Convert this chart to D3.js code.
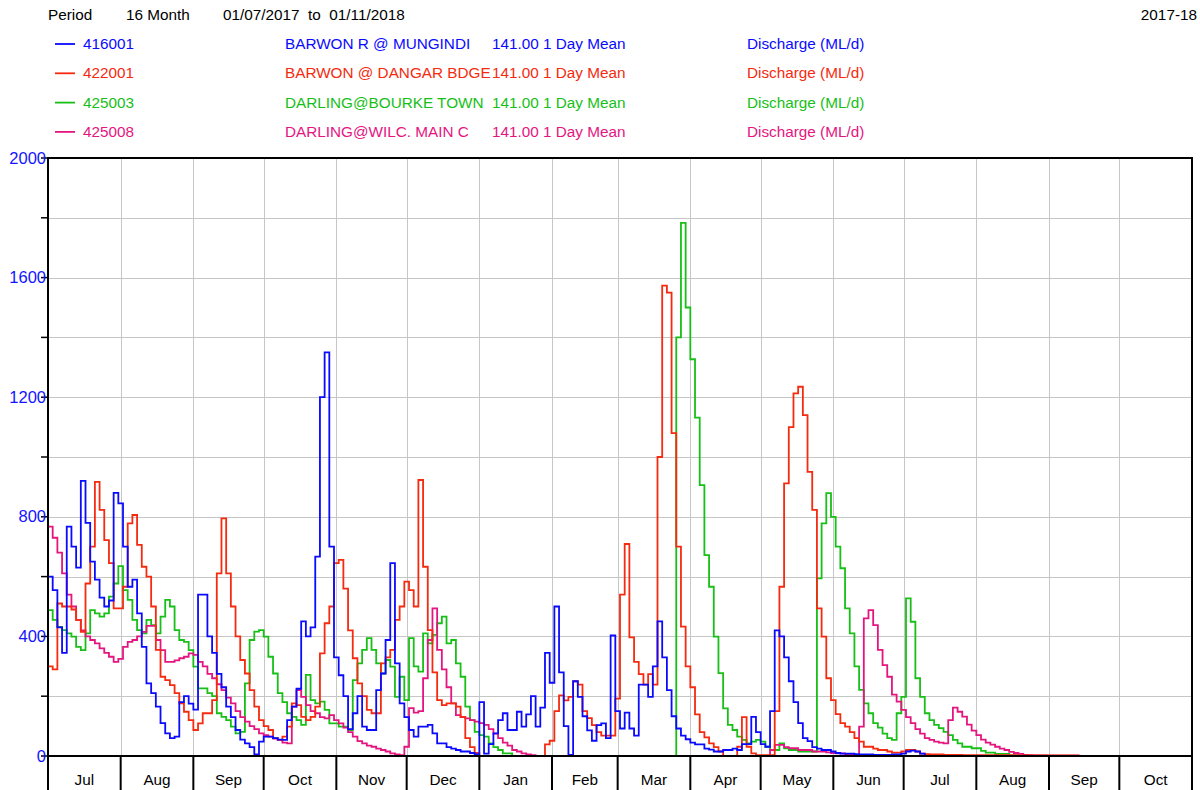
<!DOCTYPE html>
<html>
<head>
<meta charset="utf-8">
<script src="https://cdn.jsdelivr.net/npm/d3@7"></script>
<style>
  body { margin: 0; background: #fff; }
  text { font-family: Arial, "Liberation Sans", sans-serif; font-size: 15.3px; }
</style>
</head>
<body>
<div id="chart"></div>
<script>
const width = 1200;
const height = 790;

// daily mean discharge (ML/d), one reading every 2 days from 01/07/2017
const startDate = "2017-07-01";
const stepDays = 2;
const endDate = "2018-11-01";

const monthLabels = ["Jul", "Aug", "Sep", "Oct", "Nov", "Dec", "Jan", "Feb", "Mar", "Apr", "May", "Jun", "Jul", "Aug", "Sep", "Oct"];
const yTicks = [0, 400, 800, 1200, 1600, 2000];

const stationIds = ["416001", "422001", "425003", "425008"];
const stationNames = ["BARWON R @ MUNGINDI", "BARWON @ DANGAR BDGE", "DARLING@BOURKE TOWN", "DARLING@WILC. MAIN C"];
const stationColors = ["#0a0aff", "#f52a0f", "#17bf17", "#e5157f"];

const flow416001 = [
  600, 555, 430, 345, 767, 700, 630, 920, 780, 650,
  590, 530, 500, 520, 880, 845, 700, 566, 590, 477,
  365, 243, 210, 165, 110, 76, 60, 65, 180, 200,
  175, 155, 540, 540, 400, 345, 275, 230, 165, 130,
  87, 55, 42, 30, 5, 48, 65, 65, 60, 55,
  54, 120, 165, 225, 450, 400, 430, 667, 1200, 1350,
  700, 330, 270, 200, 90, 143, 200, 98, 87, 87,
  220, 276, 388, 645, 310, 176, 130, 87, 65, 98,
  98, 104, 76, 42, 42, 30, 25, 20, 15, 15,
  10, 5, 180, 8, 40, 76, 120, 143, 87, 87,
  148, 98, 139, 200, 98, 162, 345, 245, 500, 280,
  100, 4, 250, 198, 133, 86, 51, 103, 109, 60,
  403, 150, 92, 145, 92, 68, 239, 239, 198, 300,
  450, 330, 220, 133, 92, 68, 56, 45, 39, 39,
  25, 21, 15, 15, 20, 20, 25, 20, 40, 40,
  131, 80, 40, 31, 150, 420, 400, 330, 250, 180,
  110, 60, 50, 30, 25, 20, 20, 15, 10, 8,
  8, 8, 6, 5, 5, 5, 4, 4, 4, 4,
  5, 5, 8, 15, 18, 15, 8, 2
];

const flow422001 = [
  300, 290, 510, 500, 500, 490, 455, 415, 577, 700,
  917, 823, 722, 645, 494, 494, 566, 778, 806, 706,
  633, 600, 500, 355, 265, 254, 237, 210, 176, 148,
  120, 87, 109, 143, 143, 187, 611, 795, 611, 500,
  400, 321, 276, 220, 165, 120, 100, 87, 60, 54,
  65, 98, 176, 170, 131, 120, 131, 165, 343, 444,
  500, 645, 656, 560, 420, 327, 243, 200, 154, 143,
  143, 310, 330, 355, 455, 500, 583, 555, 500, 923,
  633, 421, 280, 187, 170, 176, 176, 165, 131, 60,
  30, 10, 0, 0, 0, 0, 0, 0, 0, 0,
  0, 0, 0, 0, 0, 0, 39, 51, 150, 203,
  186, 198, 250, 239, 150, 127, 103, 80, 68, 68,
  68, 192, 540, 709, 397, 315, 274, 239, 274, 239,
  1000, 1573, 1550, 1080, 700, 433, 300, 230, 139, 80,
  62, 42, 30, 15, 0, 0, 0, 31, 130, 31,
  9, 3, 3, 3, 3, 150, 566, 912, 1100, 1213,
  1235, 1140, 950, 823, 494, 399, 260, 187, 140, 110,
  98, 80, 60, 48, 31, 31, 25, 20, 20, 15,
  11, 11, 15, 20, 20, 15, 8, 6, 5, 5,
  5, 4, 4, 4, 4, 3, 3, 3, 3, 3,
  3, 3, 3, 3, 3, 3, 3, 2, 2, 2,
  2, 2, 2, 2, 2, 2, 2, 2, 2, 2, 2
];

const flow425003 = [
  488, 455, 432, 421, 410, 399, 365, 354, 410, 488,
  477, 466, 477, 533, 577, 635, 555, 522, 455, 421,
  410, 455, 438, 410, 466, 522, 500, 421, 388, 382,
  354, 299, 226, 226, 210, 200, 143, 131, 120, 98,
  76, 81, 243, 388, 416, 421, 399, 332, 276, 210,
  180, 143, 131, 120, 104, 271, 187, 176, 182, 154,
  109, 109, 98, 98, 87, 254, 310, 355, 394, 355,
  310, 276, 321, 299, 198, 265, 187, 394, 300, 282,
  410, 377, 405, 444, 466, 377, 388, 310, 265, 165,
  120, 81, 70, 65, 42, 30, 20, 9, 9, 0,
  0, 0, 0, 0, 0, 0, 0, 0, 0, 0,
  0, 0, 0, 0, 0, 0, 0, 0, 0, 0,
  0, 0, 0, 0, 0, 0, 0, 0, 0, 0,
  0, 0, 0, 0, 1400, 1783, 1500, 1327, 1132, 906,
  672, 566, 399, 277, 159, 104, 87, 65, 54, 42,
  48, 54, 48, 31, 20, 20, 42, 26, 20, 20,
  15, 15, 15, 15, 594, 778, 879, 800, 700, 628,
  494, 410, 300, 221, 176, 143, 110, 95, 75, 60,
  54, 143, 198, 527, 449, 260, 198, 143, 120, 104,
  93, 81, 70, 54, 42, 31, 31, 26, 26, 17,
  11, 11, 7, 7, 7, 2, 2, 2
];

const flow425008 = [
  767, 730, 680, 611, 540, 500, 455, 420, 400, 388,
  377, 360, 345, 332, 315, 325, 365, 382, 388, 400,
  415, 435, 435, 388, 354, 315, 315, 320, 327, 332,
  343, 338, 315, 300, 275, 260, 240, 220, 195, 176,
  150, 130, 115, 100, 90, 76, 70, 65, 58, 54,
  45, 42, 165, 220, 198, 170, 150, 143, 130, 126,
  137, 120, 109, 95, 80, 65, 50, 42, 35, 31,
  25, 20, 15, 9, 5, 3, 31, 160, 145, 150,
  260, 388, 494, 355, 290, 230, 176, 137, 130, 126,
  120, 115, 110, 104, 90, 75, 60, 45, 35, 20,
  15, 9, 5, 3, 0, 0, 0, 0, 0, 0,
  0, 0, 0, 0, 0, 0, 0, 0, 0, 0,
  0, 0, 0, 0, 0, 0, 0, 0, 0, 0,
  0, 0, 0, 0, 0, 0, 0, 0, 0, 0,
  0, 0, 0, 0, 0, 0, 0, 0, 0, 0,
  0, 0, 0, 0, 20, 37, 37, 30, 26, 26,
  20, 20, 20, 15, 15, 15, 12, 10, 9, 9,
  5, 5, 3, 98, 460, 488, 438, 355, 304, 265,
  205, 182, 154, 130, 110, 90, 75, 60, 54, 48,
  45, 42, 120, 162, 148, 132, 105, 85, 70, 55,
  45, 38, 31, 25, 20, 14, 10, 7, 4, 3,
  2, 2, 2, 1, 1, 1, 1, 1, 1, 1, 1
];

const flows = [flow416001, flow422001, flow425003, flow425008];

const parseDate = d3.timeParse("%Y-%m-%d");
const t0 = parseDate(startDate);
const t1 = parseDate(endDate);

const plot = { left: 48, right: 1192, top: 158, bottom: 756 };

const svg = d3.select("#chart")
  .append("svg")
  .attr("width", width)
  .attr("height", height);

const x = d3.scaleTime()
  .domain([t0, t1])
  .range([plot.left, plot.right]);

const y = d3.scaleLinear()
  .domain([0, 2000])
  .range([plot.bottom, plot.top]);

const monthStarts = d3.timeMonth.range(t0, d3.timeDay.offset(t1, 1));

// header
const header = svg.append("g").attr("fill", "#000");
header.append("text").attr("x", 48).attr("y", 20).text("Period");
header.append("text").attr("x", 126).attr("y", 20).text("16 Month");
header.append("text").attr("x", 223).attr("y", 20).attr("xml:space", "preserve").text("01/07/2017  to  01/11/2018");
header.append("text").attr("x", 1197).attr("y", 20).attr("text-anchor", "end").text("2017-18");

// legend
const legend = svg.append("g")
  .selectAll("g")
  .data(stationIds)
  .enter().append("g")
  .attr("transform", (d, i) => `translate(0, ${44 + i * 29.3})`)
  .attr("fill", (d, i) => stationColors[i]);

legend.append("line")
  .attr("x1", 55).attr("x2", 75)
  .attr("stroke", (d, i) => stationColors[i])
  .attr("stroke-width", 1.8);
legend.append("text").attr("x", 83).attr("y", 5).text(d => d);
legend.append("text").attr("x", 285).attr("y", 5).text((d, i) => stationNames[i]);
legend.append("text").attr("x", 492).attr("y", 5).text("141.00 1 Day Mean");
legend.append("text").attr("x", 747).attr("y", 5).text("Discharge (ML/d)");

// grid
const grid = svg.append("g").attr("stroke", "#c6c6c6").attr("stroke-width", 1);
grid.selectAll("line.h")
  .data(d3.range(200, 2000, 200))
  .enter().append("line")
  .attr("x1", plot.left).attr("x2", plot.right)
  .attr("y1", d => Math.round(y(d)) + 0.5).attr("y2", d => Math.round(y(d)) + 0.5);
grid.selectAll("line.v")
  .data(monthStarts.slice(1, -1))
  .enter().append("line")
  .attr("x1", d => Math.round(x(d)) + 0.5).attr("x2", d => Math.round(x(d)) + 0.5)
  .attr("y1", plot.top).attr("y2", plot.bottom);

// series
svg.append("clipPath").attr("id", "clip")
  .append("rect")
  .attr("x", plot.left).attr("y", plot.top - 2)
  .attr("width", plot.right - plot.left).attr("height", plot.bottom - plot.top + 2);

const line = d3.line()
  .x(d => x(d.date))
  .y(d => y(d.value))
  .curve(d3.curveStepAfter);

const drawOrder = [2, 3, 1, 0];
svg.append("g")
  .attr("clip-path", "url(#clip)")
  .selectAll("path")
  .data(drawOrder)
  .enter().append("path")
  .attr("fill", "none")
  .attr("stroke", i => stationColors[i])
  .attr("stroke-width", 1.8)
  .attr("stroke-linejoin", "miter")
  .attr("d", i => line(flows[i].map((v, k) => ({ date: d3.timeDay.offset(t0, k * stepDays), value: v }))));

// frame
svg.append("rect")
  .attr("x", plot.left).attr("y", plot.top)
  .attr("width", plot.right - plot.left).attr("height", plot.bottom - plot.top)
  .attr("fill", "none")
  .attr("stroke", "#000")
  .attr("stroke-width", 2);

// y axis
svg.append("g").attr("stroke", "#000").attr("stroke-width", 1.5)
  .selectAll("line")
  .data(d3.range(0, 2001, 200))
  .enter().append("line")
  .attr("x1", 41).attr("x2", plot.left)
  .attr("y1", d => y(d)).attr("y2", d => y(d));

svg.append("g")
  .selectAll("text")
  .data(yTicks)
  .enter().append("text")
  .attr("x", 46)
  .attr("y", d => y(d) + 5.5)
  .attr("text-anchor", "end")
  .attr("fill", "#1414ff")
  .style("font-size", "16.5px")
  .text(d => d);

// x axis
svg.append("g").attr("stroke", "#000").attr("stroke-width", 2)
  .selectAll("line")
  .data(monthStarts)
  .enter().append("line")
  .attr("x1", d => x(d)).attr("x2", d => x(d))
  .attr("y1", plot.bottom).attr("y2", height);

svg.append("g")
  .selectAll("text")
  .data(monthStarts.slice(0, -1))
  .enter().append("text")
  .attr("x", d => (x(d) + x(d3.timeMonth.offset(d, 1))) / 2)
  .attr("y", 785)
  .attr("text-anchor", "middle")
  .attr("fill", "#000")
  .text((d, i) => monthLabels[i]);
</script>
</body>
</html>
